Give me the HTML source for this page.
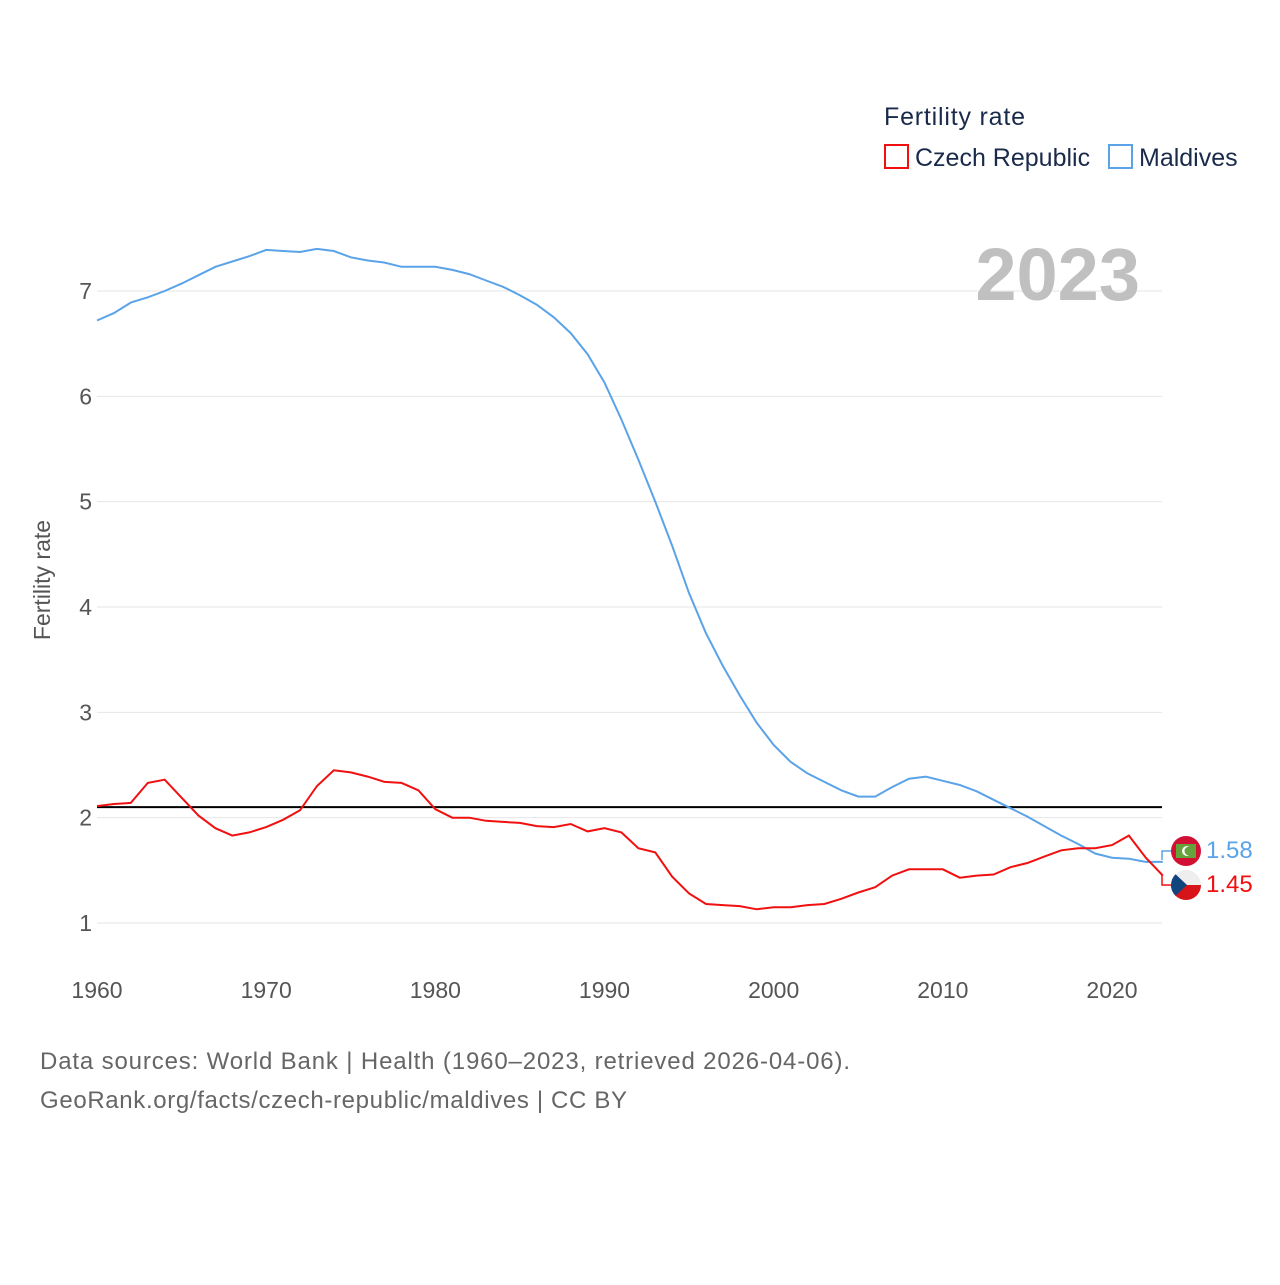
<!DOCTYPE html>
<html><head><meta charset="utf-8"><style>
body{margin:0;background:#fff;font-family:"Liberation Sans",sans-serif}
</style></head><body>
<svg width="1280" height="1280" xmlns="http://www.w3.org/2000/svg">
<g id="grid"></g>
<g id="yt"></g>
<g id="xt"></g>
<text x="1140" y="300" text-anchor="end" font-size="74" font-weight="bold" fill="#c0c0c0">2023</text>
<text transform="translate(50,580) rotate(-90)" text-anchor="middle" font-size="23" fill="#555">Fertility rate</text>
<line id="ref" stroke="#000" stroke-width="2"/>
<path id="mv" fill="none" stroke="#5ba3e8" stroke-width="2"/>
<path id="cz" fill="none" stroke="#f01010" stroke-width="2"/>
<g>
<text x="884" y="125" font-size="25" fill="#1a2a4a" textLength="141">Fertility rate</text>
<rect x="885" y="145" width="23" height="23" fill="none" stroke="#f01010" stroke-width="2"/>
<text x="915" y="166" font-size="25" fill="#1a2a4a">Czech Republic</text>
<rect x="1109" y="145" width="23" height="23" fill="none" stroke="#5ba3e8" stroke-width="2"/>
<text x="1139" y="166" font-size="25" fill="#1a2a4a">Maldives</text>
</g>
<g>
<path d="M1162 860 V851 H1172" fill="none" stroke="#5ba3e8" stroke-width="1.5"/>
<path d="M1162 875 V885 H1172" fill="none" stroke="#f01010" stroke-width="1.5"/>
<circle cx="1186" cy="851" r="15" fill="#d21034"/>
<rect x="1176" y="844" width="20" height="14" fill="#66a23c"/>
<circle cx="1187" cy="851" r="5" fill="#fff"/><circle cx="1189" cy="851" r="4.5" fill="#66a23c"/>
<clipPath id="cc"><circle cx="1186" cy="885" r="15"/></clipPath>
<g clip-path="url(#cc)">
<rect x="1171" y="870" width="30" height="15" fill="#eee"/><rect x="1171" y="885" width="30" height="15" fill="#d7141a"/>
<path d="M1171 870 L1187 885 L1171 900Z" fill="#11457e"/></g>
<text x="1206" y="858" font-size="24" fill="#5ba3e8">1.58</text>
<text x="1206" y="892" font-size="24" fill="#f01010">1.45</text>
</g>
<text x="40" y="1069" font-size="24" fill="#666" textLength="810">Data sources: World Bank | Health (1960–2023, retrieved 2026-04-06).</text>
<text x="40" y="1108" font-size="24" fill="#666" textLength="587">GeoRank.org/facts/czech-republic/maldives | CC BY</text>
</svg>
<script>
const years=[];for(let y=1960;y<=2023;y++)years.push(y);
const maldives=[6.72,6.79,6.89,6.94,7.00,7.07,7.15,7.23,7.28,7.33,7.39,7.38,7.37,7.40,7.38,7.32,7.29,7.27,7.23,7.23,7.23,7.20,7.16,7.10,7.04,6.96,6.87,6.75,6.60,6.40,6.13,5.78,5.40,5.00,4.58,4.13,3.75,3.44,3.16,2.90,2.69,2.53,2.42,2.34,2.26,2.20,2.20,2.29,2.37,2.39,2.35,2.31,2.25,2.17,2.09,2.01,1.92,1.83,1.75,1.66,1.62,1.61,1.58,1.58];
const czech=[2.11,2.13,2.14,2.33,2.36,2.19,2.02,1.90,1.83,1.86,1.91,1.98,2.07,2.30,2.45,2.43,2.39,2.34,2.33,2.26,2.08,2.00,2.00,1.97,1.96,1.95,1.92,1.91,1.94,1.87,1.90,1.86,1.71,1.67,1.44,1.28,1.18,1.17,1.16,1.13,1.15,1.15,1.17,1.18,1.23,1.29,1.34,1.45,1.51,1.51,1.51,1.43,1.45,1.46,1.53,1.57,1.63,1.69,1.71,1.71,1.74,1.83,1.62,1.45];
const yTicks=[1,2,3,4,5,6,7];
const xTicks=[1960,1970,1980,1990,2000,2010,2020];
const refValue=2.1;
const X=y=>97+(y-1960)*1015/60, Y=v=>923-(v-1)*632/6;
const NS="http://www.w3.org/2000/svg";
const g=document.getElementById('grid'),yt=document.getElementById('yt'),xt=document.getElementById('xt');
yTicks.forEach(t=>{
 const l=document.createElementNS(NS,'line');
 
 
 l.setAttribute('x1',97);l.setAttribute('x2',1162);l.setAttribute('y1',Y(t));l.setAttribute('y2',Y(t));
 l.setAttribute('stroke','#e6e6e6');g.appendChild(l);
 const tx=document.createElementNS(NS,'text');
 
 
 tx.setAttribute('x',92);tx.setAttribute('y',Y(t)+8);tx.setAttribute('text-anchor','end');
 tx.setAttribute('font-size','23');tx.setAttribute('fill','#555');tx.textContent=t;yt.appendChild(tx);
});
xTicks.forEach(t=>{
 const tx=document.createElementNS(NS,'text');
 
 
 tx.setAttribute('x',X(t));tx.setAttribute('y',998);tx.setAttribute('text-anchor','middle');
 tx.setAttribute('font-size','23');tx.setAttribute('fill','#555');tx.textContent=t;xt.appendChild(tx);
});
const r=document.getElementById('ref');
r.setAttribute('x1',97);r.setAttribute('x2',1162);r.setAttribute('y1',Y(refValue));r.setAttribute('y2',Y(refValue));
const path=a=>a.map((v,i)=>(i?'L':'M')+X(years[i]).toFixed(1)+' '+Y(v).toFixed(1)).join(' ');
document.getElementById('mv').setAttribute('d',path(maldives));
document.getElementById('cz').setAttribute('d',path(czech));
</script>
</body></html>
